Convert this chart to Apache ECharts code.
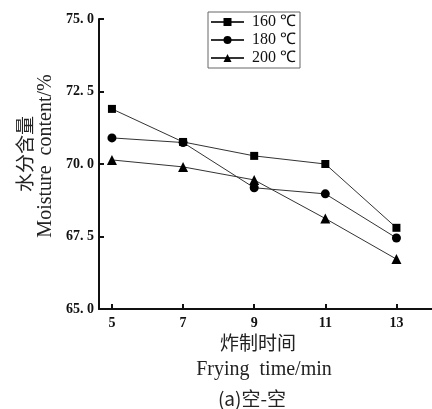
<!DOCTYPE html>
<html><head><meta charset="utf-8">
<script src="https://cdn.jsdelivr.net/npm/echarts@6/dist/echarts.min.js"></script>
<style>html,body{margin:0;padding:0;background:#fff}#c{width:432px;height:409px}</style>
</head><body><div id="c"></div>
<script>
const times = [5, 7, 9, 11, 13];
const xTicks = [5, 7, 9, 11, 13];
const names = ['160 ℃', '180 ℃', '200 ℃'];
const s160 = [71.9, 70.76, 70.28, 70.0, 67.8];
const s180 = [70.9, 70.74, 69.18, 68.97, 67.45];
const s200 = [70.14, 69.9, 69.45, 68.12, 66.72];
const symbols = ['rect', 'circle', 'triangle'];
const sizes = [8, 9, 10];
const allData = [s160, s180, s200];

const chart = echarts.init(document.getElementById('c'));
const serif = 'Liberation Serif';
chart.setOption({
  animation: false,
  backgroundColor: '#fff',
  grid: {left: 99, top: 19, right: 0, bottom: 100},
  legend: {
    orient: 'vertical', left: 208, top: 12,
    borderColor: '#666', borderWidth: 1,
    padding: [2, 4, 2, 2],
    itemWidth: 33, itemHeight: 10, itemGap: 2,
    textStyle: {fontFamily: serif, fontSize: 16, lineHeight: 16, color: '#111', padding: [0, 0, 0, 3]},
    data: names
  },
  xAxis: {
    type: 'value', min: 4.636, max: 14,
    axisLine: {lineStyle: {color: '#111', width: 2}},
    axisTick: {inside: true, length: 5, lineStyle: {color: '#111', width: 2}, customValues: xTicks},
    axisLabel: {customValues: xTicks, fontFamily: serif, fontWeight: 'bold', fontSize: 14, color: '#111', margin: 7},
    splitLine: {show: false}
  },
  yAxis: {
    type: 'value', min: 65, max: 75, interval: 2.5,
    axisLine: {show: true, lineStyle: {color: '#111', width: 2}},
    axisTick: {show: true, inside: true, length: 5, lineStyle: {color: '#111', width: 2}},
    axisLabel: {fontFamily: serif, fontWeight: 'bold', fontSize: 14, color: '#111', margin: 5,
      formatter: v => v.toFixed(1).replace('.', '. ')},
    splitLine: {show: false}
  },
  graphic: [
    {type: 'text', x: 25, y: 154, rotation: Math.PI / 2,
      style: {text: '水分含量', font: '19px "Noto Sans CJK SC"', fill: '#222', align: 'center', verticalAlign: 'middle'}},
    {type: 'text', x: 46, y: 156, rotation: Math.PI / 2,
      style: {text: 'Moisture  content/%', font: '20px "Liberation Serif"', fill: '#222', align: 'center', verticalAlign: 'middle'}},
    {type: 'text', x: 258, y: 343,
      style: {text: '炸制时间', font: '19px "Noto Sans CJK SC"', fill: '#222', align: 'center', verticalAlign: 'middle'}},
    {type: 'text', x: 264, y: 370,
      style: {text: 'Frying  time/min', font: '20px "Liberation Serif"', fill: '#222', align: 'center', verticalAlign: 'middle'}},
    {type: 'text', x: 252, y: 399,
      style: {text: '(a)空-空', font: '19px "Noto Sans CJK SC"', fill: '#222', align: 'center', verticalAlign: 'middle'}}
  ],
  series: names.map((n, i) => ({
    name: n, type: 'line',
    data: times.map((t, j) => [t, allData[i][j]]),
    symbol: symbols[i], symbolSize: sizes[i],
    itemStyle: {color: '#000'},
    lineStyle: {color: '#333', width: 1}
  }))
});
</script></body></html>
